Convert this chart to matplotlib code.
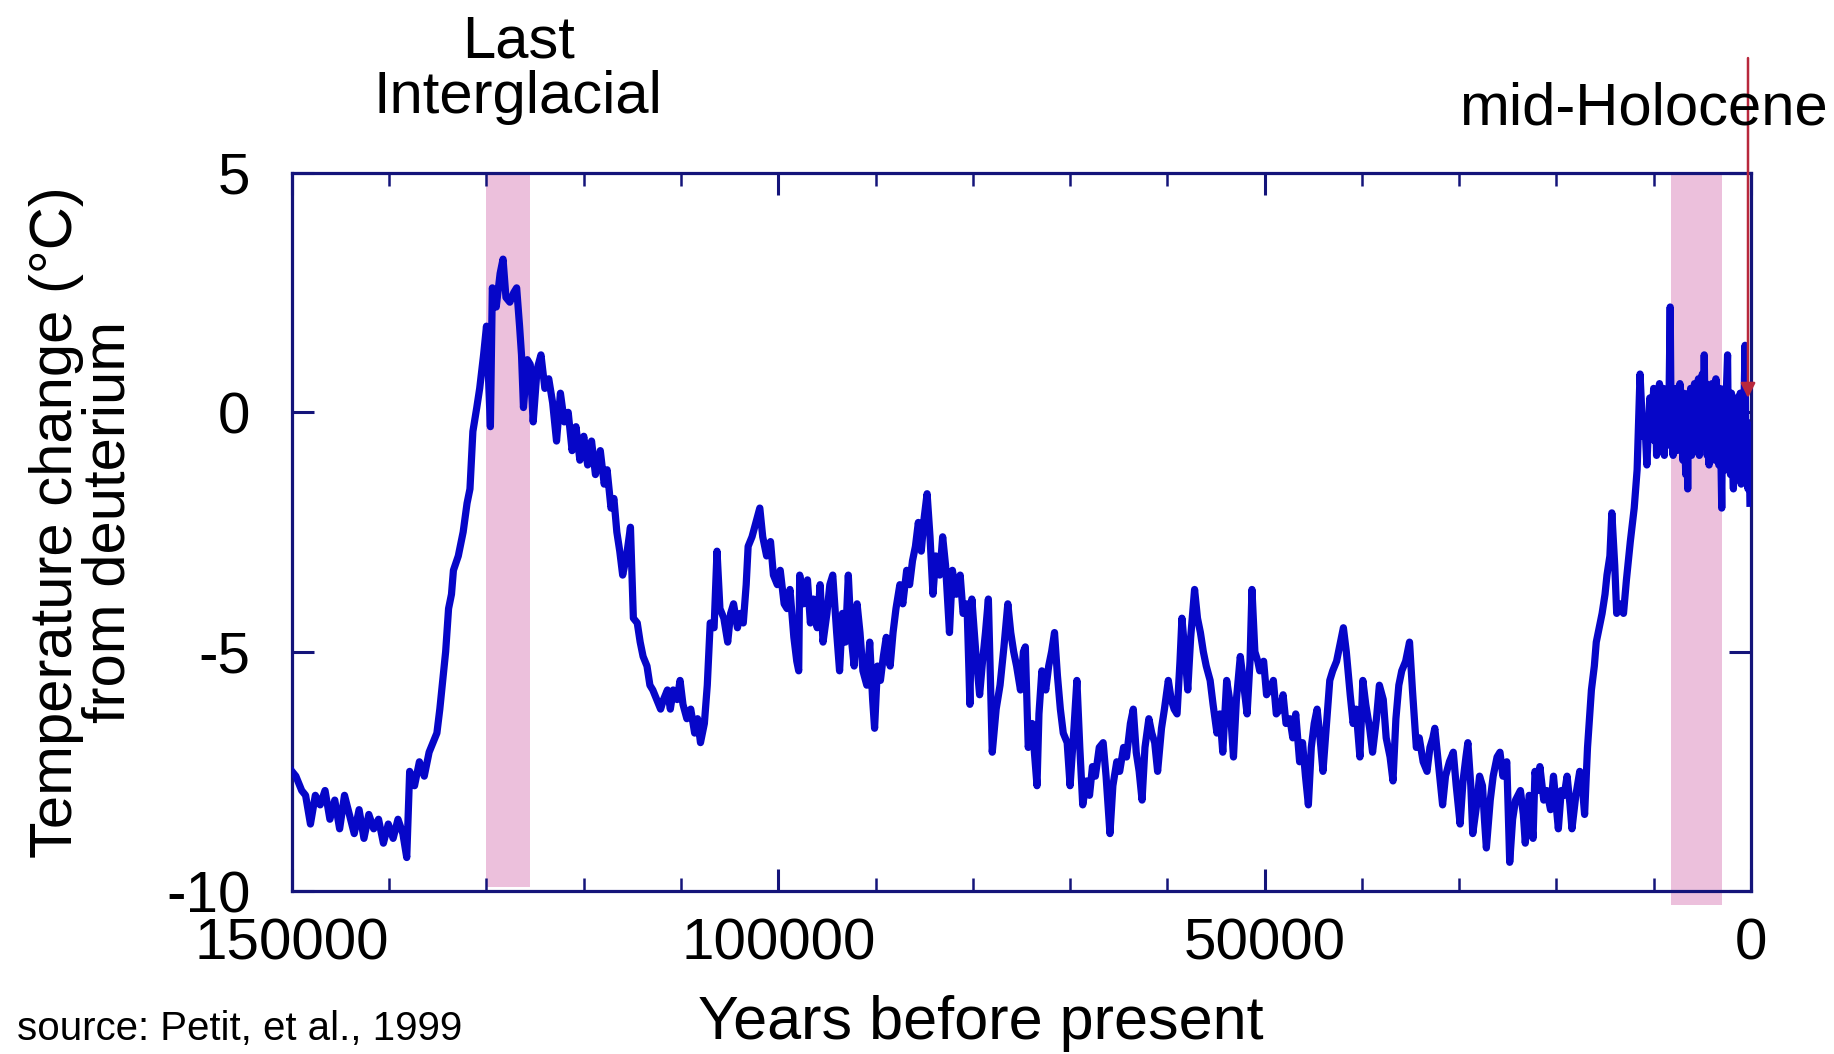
import matplotlib
matplotlib.use("Agg")
import matplotlib.pyplot as plt
from matplotlib.ticker import MultipleLocator

plt.rcParams["font.family"] = ["Liberation Sans", "DejaVu Sans"]
plt.rcParams["axes.unicode_minus"] = False

# Vostok deuterium temperature record (kyr BP, deg C)
age_kyr = [
    150.0, 149.6, 149.0, 148.6, 148.1, 147.6, 147.1, 146.6, 146.1, 145.6,
    145.1, 144.6, 144.1, 143.6, 143.1, 142.6, 142.1, 141.6, 141.1, 140.6,
    140.1, 139.6, 139.1, 138.6, 138.2, 137.9, 137.4, 136.9, 136.4, 135.9,
    135.5, 135.1, 134.8, 134.5, 134.2, 133.9, 133.6, 133.4, 132.9, 132.4,
    132.0, 131.7, 131.4, 131.0, 130.7, 130.3, 130.0, 129.6, 129.4, 129.0,
    128.6, 128.3, 128.0, 127.6, 127.2, 126.9, 126.6, 126.4, 126.2, 125.8,
    125.5, 125.2, 124.8, 124.4, 124.0, 123.6, 123.2, 122.8, 122.4, 122.0,
    121.6, 121.2, 120.8, 120.4, 120.0, 119.6, 119.2, 118.8, 118.3, 117.9,
    117.6, 117.2, 116.9, 116.6, 116.3, 116.0, 115.6, 115.2, 114.9, 114.5,
    114.2, 113.9, 113.5, 113.2, 112.9, 112.5, 112.1, 111.8, 111.4, 111.1,
    110.8, 110.4, 110.1, 109.8, 109.4, 109.0, 108.6, 108.3, 108.0, 107.6,
    107.3, 107.0, 106.6, 106.3, 106.0, 105.6, 105.2, 104.9, 104.6, 104.2,
    103.9, 103.6, 103.3, 103.1, 102.7, 102.3, 101.9, 101.6, 101.2, 100.8,
    100.5, 100.1, 99.8, 99.4, 99.1, 98.8, 98.4, 98.1, 97.9, 97.8,
    97.4, 97.0, 96.7, 96.4, 96.0, 95.7, 95.4, 95.0, 94.7, 94.4,
    94.0, 93.7, 93.4, 93.1, 92.8, 92.5, 92.2, 91.9, 91.6, 91.3,
    90.9, 90.6, 90.3, 90.1, 89.8, 89.5, 89.2, 88.9, 88.5, 88.2,
    87.9, 87.5, 87.2, 86.8, 86.5, 86.2, 85.9, 85.6, 85.3, 85.0,
    84.7, 84.4, 84.1, 83.8, 83.4, 83.1, 82.8, 82.4, 82.1, 81.7,
    81.3, 81.0, 80.6, 80.3, 80.1, 79.7, 79.3, 79.0, 78.7, 78.4,
    78.2, 78.0, 77.6, 77.2, 76.8, 76.4, 76.1, 75.8, 75.5, 75.1,
    74.8, 74.6, 74.3, 73.9, 73.4, 73.2, 72.9, 72.5, 72.2, 71.9,
    71.6, 71.3, 71.0, 70.7, 70.3, 70.0, 69.6, 69.3, 69.0, 68.7,
    68.3, 68.0, 67.7, 67.4, 67.0, 66.6, 66.3, 65.9, 65.6, 65.2,
    64.9, 64.5, 64.2, 63.8, 63.5, 63.2, 62.9, 62.6, 62.3, 61.9,
    61.6, 61.3, 61.0, 60.6, 60.3, 59.9, 59.6, 59.3, 59.0, 58.7,
    58.5, 58.2, 57.9, 57.6, 57.2, 56.9, 56.6, 56.3, 56.0, 55.6,
    55.3, 54.9, 54.6, 54.3, 53.9, 53.6, 53.2, 52.9, 52.5, 52.2,
    51.8, 51.5, 51.3, 51.0, 50.7, 50.5, 50.1, 49.8, 49.5, 49.1,
    48.8, 48.4, 48.1, 47.8, 47.4, 47.1, 46.8, 46.4, 46.1, 45.8,
    45.5, 45.2, 44.9, 44.6, 44.3, 44.0, 43.6, 43.3, 43.0, 42.6,
    42.3, 41.9, 41.6, 41.2, 40.9, 40.6, 40.2, 39.9, 39.6, 39.2,
    38.9, 38.5, 38.2, 37.8, 37.5, 37.1, 36.8, 36.5, 36.2, 35.9,
    35.5, 35.1, 34.8, 34.4, 34.1, 33.7, 33.3, 33.0, 32.7, 32.5,
    32.1, 31.7, 31.4, 31.0, 30.6, 30.3, 29.9, 29.6, 29.3, 29.1,
    28.8, 28.6, 28.2, 27.9, 27.6, 27.4, 27.2, 26.8, 26.5, 26.1,
    25.8, 25.5, 25.1, 24.8, 24.5, 24.2, 23.7, 23.4, 23.2, 22.8,
    22.4, 22.2, 21.9, 21.7, 21.3, 21.0, 20.6, 20.3, 19.8, 19.5,
    19.2, 18.9, 18.6, 18.4, 18.0, 17.6, 17.3, 17.1, 16.8, 16.6,
    16.4, 16.1, 15.9, 15.6, 15.3, 15.0, 14.8, 14.5, 14.3, 14.0,
    13.8, 13.4, 13.1, 12.8, 12.4, 12.0, 11.7, 11.4, 11.1, 10.9,
    10.7, 10.4, 10.2,
]
temp_c = [
    -7.5, -7.6, -7.9, -8.0, -8.6, -8.0, -8.2, -7.9, -8.5, -8.1,
    -8.7, -8.0, -8.4, -8.8, -8.3, -8.9, -8.4, -8.7, -8.5, -9.0,
    -8.6, -8.9, -8.5, -8.8, -9.3, -7.5, -7.8, -7.3, -7.6, -7.1,
    -6.9, -6.7, -6.2, -5.6, -5.0, -4.1, -3.8, -3.3, -3.0, -2.5,
    -1.9, -1.6, -0.4, 0.1, 0.5, 1.2, 1.8, -0.3, 2.6, 2.2,
    2.9, 3.2, 2.4, 2.3, 2.5, 2.6, 1.8, 1.2, 0.1, 1.1,
    1.0, -0.2, 0.9, 1.2, 0.5, 0.7, 0.2, -0.6, 0.4, -0.2,
    0.0, -0.8, -0.3, -1.0, -0.5, -1.1, -0.6, -1.3, -0.8, -1.5,
    -1.2, -2.0, -1.8, -2.5, -2.9, -3.4, -3.0, -2.4, -4.3, -4.4,
    -4.8, -5.1, -5.3, -5.7, -5.8, -6.0, -6.2, -6.0, -5.8, -6.2,
    -5.8, -6.0, -5.6, -6.1, -6.4, -6.2, -6.7, -6.4, -6.9, -6.5,
    -5.7, -4.4, -4.5, -2.9, -4.1, -4.3, -4.8, -4.2, -4.0, -4.5,
    -4.2, -4.4, -3.6, -2.8, -2.6, -2.3, -2.0, -2.6, -3.0, -2.7,
    -3.4, -3.6, -3.3, -4.0, -4.1, -3.7, -4.7, -5.2, -5.4, -3.4,
    -4.0, -3.5, -4.4, -3.9, -4.5, -3.6, -4.8, -4.2, -3.6, -3.4,
    -4.6, -5.4, -4.2, -4.8, -3.4, -4.7, -5.3, -4.0, -4.6, -5.4,
    -5.7, -4.8, -6.0, -6.6, -5.3, -5.6, -5.1, -4.7, -5.3, -4.6,
    -4.1, -3.6, -4.0, -3.3, -3.6, -3.1, -2.8, -2.3, -2.9, -2.2,
    -1.7, -2.6, -3.8, -3.0, -3.4, -2.6, -3.2, -4.6, -3.3, -3.8,
    -3.4, -4.2, -4.0, -6.1, -3.9, -5.0, -5.9, -5.2, -4.6, -3.9,
    -5.5, -7.1, -6.2, -5.7, -4.9, -4.0, -4.6, -5.0, -5.3, -5.8,
    -5.0, -4.9, -7.0, -6.5, -7.8, -6.3, -5.4, -5.8, -5.3, -5.0,
    -4.6, -5.5, -6.2, -6.7, -6.9, -7.8, -6.6, -5.6, -7.0, -8.2,
    -7.7, -8.0, -7.4, -7.6, -7.0, -6.9, -7.6, -8.8, -7.8, -7.3,
    -7.5, -7.0, -7.2, -6.5, -6.2, -7.1, -7.5, -8.1, -7.0, -6.4,
    -6.7, -6.9, -7.5, -6.6, -6.2, -5.6, -6.0, -6.2, -6.3, -5.2,
    -4.3, -5.0, -5.8, -4.7, -3.7, -4.3, -4.6, -5.0, -5.3, -5.6,
    -6.1, -6.7, -6.3, -7.1, -5.6, -6.0, -7.2, -6.0, -5.1, -5.6,
    -6.3, -5.2, -3.7, -5.0, -5.2, -5.4, -5.2, -5.9, -5.8, -5.6,
    -6.3, -6.2, -5.9, -6.5, -6.4, -6.8, -6.3, -7.3, -6.9, -7.6,
    -8.2, -7.0, -6.5, -6.2, -6.8, -7.5, -6.4, -5.6, -5.4, -5.2,
    -4.9, -4.5, -5.0, -5.9, -6.5, -6.2, -7.2, -5.6, -6.1, -6.6,
    -7.1, -6.4, -5.7, -6.0, -6.8, -7.2, -7.7, -6.4, -5.7, -5.4,
    -5.2, -4.8, -5.8, -7.0, -6.8, -7.3, -7.5, -7.0, -6.8, -6.6,
    -7.4, -8.2, -7.6, -7.3, -7.1, -7.8, -8.6, -7.7, -7.2, -6.9,
    -7.8, -8.8, -8.2, -7.6, -7.8, -8.5, -9.1, -8.1, -7.6, -7.2,
    -7.1, -7.6, -7.3, -9.4, -8.5, -8.1, -7.9, -8.4, -9.0, -8.0,
    -8.9, -7.5, -7.9, -7.4, -8.1, -7.9, -8.3, -7.6, -8.7, -7.9,
    -8.0, -7.6, -8.2, -8.7, -8.0, -7.5, -7.9, -8.4, -7.0, -6.4,
    -5.8, -5.3, -4.8, -4.5, -4.2, -3.8, -3.4, -3.0, -2.1, -3.2,
    -4.2, -4.0, -4.2, -3.5, -2.7, -2.0, -1.2, 0.8, -0.5, -0.2,
    -1.1, 0.3, -0.4,
]

# Holocene part is sampled much more densely in the core
holocene_age_kyr = [
    10.0, 9.9, 9.8, 9.7, 9.6, 9.5, 9.4, 9.3, 9.2, 9.1,
    9.0, 8.9, 8.8, 8.7, 8.6, 8.5, 8.4, 8.3, 8.2, 8.1,
    8.0, 7.9, 7.8, 7.7, 7.6, 7.5, 7.4, 7.3, 7.2, 7.1,
    7.0, 6.9, 6.8, 6.7, 6.6, 6.5, 6.4, 6.3, 6.2, 6.1,
    6.0, 5.9, 5.8, 5.7, 5.6, 5.5, 5.4, 5.3, 5.2, 5.1,
    5.0, 4.9, 4.8, 4.7, 4.6, 4.5, 4.4, 4.3, 4.2, 4.1,
    4.0, 3.9, 3.8, 3.7, 3.6, 3.5, 3.4, 3.3, 3.2, 3.1,
    3.0, 2.9, 2.8, 2.7, 2.6, 2.5, 2.4, 2.3, 2.2, 2.1,
    2.0, 1.9, 1.8, 1.7, 1.6, 1.5, 1.4, 1.3, 1.2, 1.1,
    1.0, 0.9, 0.8, 0.7, 0.6, 0.5, 0.4, 0.3, 0.2, 0.1,
]
holocene_temp_c = [
    0.5, -0.6, 0.2, -0.9, 0.4, -0.3, 0.6, -0.8, 0.3, -0.5,
    0.5, -0.9, 0.1, -0.7, 0.4, -0.6, 0.6, 2.2, -0.4, 0.3,
    -0.9, 0.4, -0.6, 0.5, -0.8, 0.3, -0.5, 0.6, -0.7, 0.2,
    -1.0, 0.4, -0.6, -1.3, 0.3, -1.6, 0.4, -0.7, 0.5, -0.9,
    0.4, -0.4, 0.6, -0.8, 0.5, -0.5, 0.7, -0.9, 0.6, -0.6,
    0.8, -0.7, 1.2, -0.4, 0.6, -0.9, 0.5, -1.1, 0.4, -0.8,
    0.6, -0.6, 0.3, -1.0, 0.7, -0.8, 0.4, -1.1, 0.5, -0.7,
    -2.0, 0.3, -0.9, 0.5, -1.2, 0.6, 1.2, -1.0, 0.3, -1.3,
    0.4, -0.9, -1.6, 0.2, -1.2, 0.3, -1.4, 0.1, -1.0, 0.4,
    -1.5, 0.0, -1.2, 0.3, 1.4, -1.3, -0.2, -1.6, -0.4, -1.9,
]

# shaded periods (years BP) and the arrow target
periods = [(130000, 125500), (8200, 3000)]
arrow_year = 300
arrow_tip = 0.3

years = [a * 1000 for a in age_kyr + holocene_age_kyr]
temps = temp_c + holocene_temp_c

navy = "#14147a"
fig = plt.figure(figsize=(18.34, 10.54), dpi=100)
ax = fig.add_axes([0.1592, 0.1546, 0.7955, 0.6813])

ax.axvspan(periods[0][0], periods[0][1], ymin=0.006, ymax=1, color="#ecc0dc", lw=0, zorder=1)
ax.axvspan(periods[1][0], periods[1][1], ymin=-0.02, ymax=1, color="#ecc0dc", lw=0,
           zorder=1, clip_on=False)

ax.plot(years, temps, color="#0606c8", lw=5.2, zorder=3)

ax.set_xlim(150000, 0)
ax.set_ylim(-10, 5)
ax.set_xticks([150000, 100000, 50000, 0])
ax.xaxis.set_minor_locator(MultipleLocator(10000))
ax.set_yticks([5, 0, -5, -10])

for s in ax.spines.values():
    s.set_color(navy)
    s.set_linewidth(2.3)

ax.tick_params(which="both", direction="in", top=True, right=True, color=navy,
               labelsize=42, labelcolor="black")
ax.tick_params(which="major", length=16, width=2.2)
ax.tick_params(which="minor", length=9.5, width=1.8)
ax.tick_params(axis="x", pad=19)
ax.tick_params(axis="y", pad=30)

ax.annotate("", xy=(arrow_year, arrow_tip), xytext=(arrow_year, 7.4),
            arrowprops=dict(arrowstyle="-|>", color="#b8283c", lw=1.8,
                            mutation_scale=22, shrinkA=0, shrinkB=0),
            annotation_clip=False, zorder=5)

fig.text(0.2825, 0.934, "Last\nInterglacial", ha="center", va="center",
         fontsize=43, linespacing=1.0)
fig.text(0.9965, 0.897, "mid-Holocene", ha="right", va="center", fontsize=43)
fig.text(0.045, 0.505, "Temperature change (°C)\nfrom deuterium", ha="center",
         va="center", rotation=90, fontsize=43, linespacing=0.95)
fig.text(0.535, 0.029, "Years before present", ha="center", va="center", fontsize=44)
fig.text(0.0095, 0.024, "source: Petit, et al., 1999", ha="left", va="center", fontsize=29)

fig.savefig("out.png", dpi=100)
